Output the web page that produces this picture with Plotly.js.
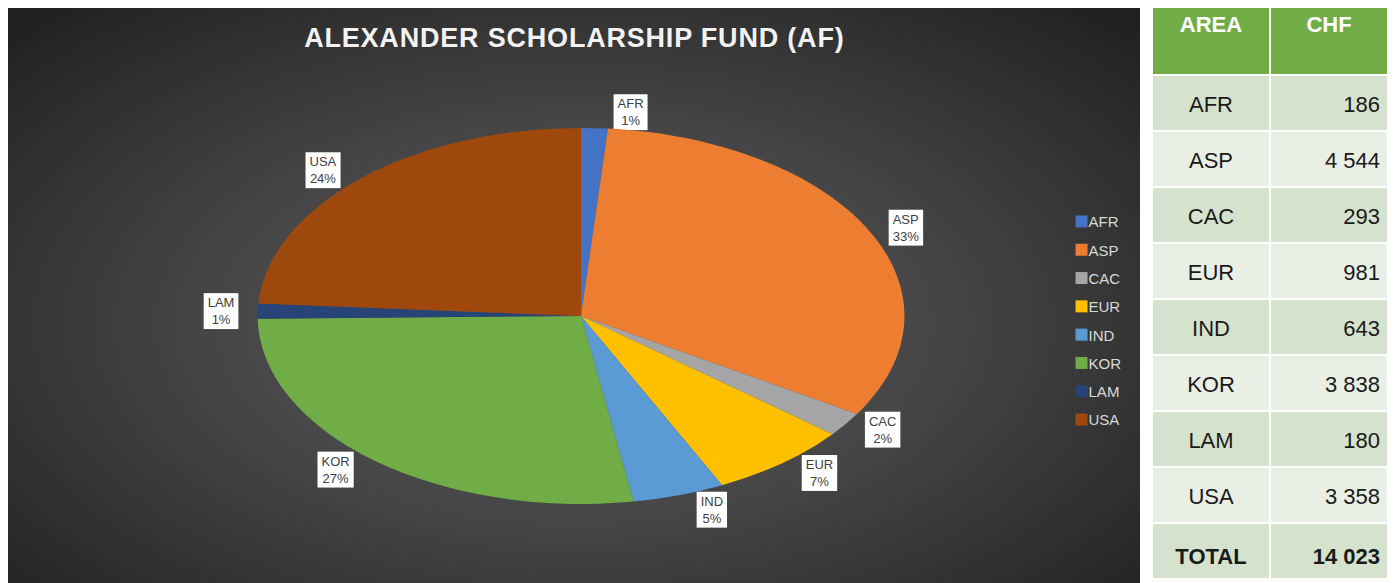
<!DOCTYPE html>
<html>
<head>
<meta charset="utf-8">
<script src="https://cdn.plot.ly/plotly-3.0.1.min.js"></script>
<style>
  html, body { margin: 0; padding: 0; background: #ffffff; }
  #wrap { position: relative; width: 1394px; height: 583px; overflow: hidden; }
  #bg { position: absolute; left: 8px; top: 8px; width: 1132px; height: 575px;
        background: radial-gradient(ellipse 70% 75% at 50% 55%, #5a5a5a 0%, #464646 45%, #2e2e2e 80%, #202020 100%); }
  #chart { position: absolute; left: 0; top: 0; width: 1394px; height: 583px; }
  .gtitle { letter-spacing: 0.8px; }
</style>
</head>
<body>
<div id="wrap">
  <div id="bg"></div>
  <div id="chart"></div>
</div>
<script>
// ---- data ----
const areas = ['AFR', 'ASP', 'CAC', 'EUR', 'IND', 'KOR', 'LAM', 'USA'];
const chf = [186, 4544, 293, 981, 643, 3838, 180, 3358];
const pctLabels = ['1%', '33%', '2%', '7%', '5%', '27%', '1%', '24%'];
const sliceColors = ['#4472C4', '#ED7D31', '#A5A5A5', '#FFC000', '#5B9BD5', '#70AD47', '#264478', '#9E480E'];
const headerLabels = ['AREA', 'CHF'];
const totalLabel = 'TOTAL';

function fmt(n) {
  return String(n).replace(/\B(?=(\d{3})+(?!\d))/g, '\u00A0');
}
const total = chf.reduce((a, b) => a + b, 0);

const colArea = areas.concat(['<b>' + totalLabel + '</b>']);
const colChf = chf.map(fmt).concat(['<b>' + fmt(total) + '</b>']);
const rowFill = colArea.map((_, i) => (i % 2 === 0 ? '#D5E2CD' : '#E9EFE5'));

// horizontal stretch of the pie to mimic the tilted 3-D view
const PIE_SX = 1.72, PIE_SY = 1.0;

const pie = {
  type: 'pie',
  labels: areas,
  values: chf,
  text: pctLabels,
  texttemplate: '%{label}<br>%{text}',
  textposition: 'outside',
  sort: false,
  direction: 'clockwise',
  rotation: 0,
  marker: { colors: sliceColors, line: { width: 0 } },
  outsidetextfont: { family: 'Liberation Sans Narrow, Liberation Sans, Arial, sans-serif', size: 13, color: '#404040' },
  hoverinfo: 'label+value+percent',
  domain: { x: [0.2733, 0.5603], y: [0.1355, 0.7805] },
  showlegend: true
};

const table = {
  type: 'table',
  domain: { x: [0.8264, 0.9957], y: [0, 0.988] },
  columnwidth: [1, 1],
  header: {
    values: headerLabels.map(h => '<b>' + h + '</b>'),
    align: ['center', 'center'],
    height: 68,
    fill: { color: '#70AD47' },
    line: { color: '#ffffff', width: 2 },
    font: { family: 'Liberation Sans, Arial, sans-serif', size: 22, color: '#ffffff' }
  },
  cells: {
    values: [colArea, colChf],
    align: ['center', 'right'],
    height: 56,
    fill: { color: [rowFill, rowFill] },
    line: { color: '#ffffff', width: 2 },
    font: { family: 'Liberation Sans, Arial, sans-serif', size: 22, color: '#1a1a1a' }
  }
};

const layout = {
  width: 1394,
  height: 583,
  margin: { l: 0, r: 0, t: 0, b: 0 },
  paper_bgcolor: 'rgba(0,0,0,0)',
  plot_bgcolor: 'rgba(0,0,0,0)',
  title: {
    text: 'ALEXANDER SCHOLARSHIP FUND (AF)',
    x: 0.412, xanchor: 'center',
    y: 0.935, yanchor: 'middle',
    font: { family: 'Liberation Sans, Arial, sans-serif', size: 27, color: '#F2F2F2', weight: 'bold' }
  },
  legend: {
    x: 0.7615, xanchor: 'left',
    y: 0.648, yanchor: 'top',
    bgcolor: 'rgba(0,0,0,0)',
    font: { family: 'Liberation Sans Narrow, Liberation Sans, Arial, sans-serif', size: 15, color: '#D9D9D9' },
    itemwidth: 30
  },
  showlegend: true
};

function toLocal(el, sx, sy) {
  const svg = el.ownerSVGElement;
  const p = svg.createSVGPoint();
  p.x = sx; p.y = sy;
  return p.matrixTransform(el.getScreenCTM().inverse());
}

Plotly.newPlot('chart', [pie, table], layout, { displayModeBar: false, staticPlot: true }).then(() => {
  const ns = 'http://www.w3.org/2000/svg';

  // --- pie: label boxes, then stretch into an ellipse while keeping labels undistorted ---
  const traceG = document.querySelector('.pielayer .trace');
  if (traceG) {
    let x0 = Infinity, y0 = Infinity, x1 = -Infinity, y1 = -Infinity;
    traceG.querySelectorAll('path.surface').forEach(p => {
      const r = p.getBoundingClientRect();
      x0 = Math.min(x0, r.left); y0 = Math.min(y0, r.top);
      x1 = Math.max(x1, r.right); y1 = Math.max(y1, r.bottom);
    });
    const parent = traceG.parentNode;
    const c = toLocal(parent, (x0 + x1) / 2, (y0 + y1) / 2);

    const texts = new Set();
    traceG.querySelectorAll('.slicetext').forEach(node => {
      const txt = node.tagName.toLowerCase() === 'text' ? node : node.querySelector('text');
      if (txt) texts.add(txt);
    });
    texts.forEach(txt => {
      const bb = txt.getBBox();
      const r = document.createElementNS(ns, 'rect');
      r.setAttribute('x', bb.x - 4);
      r.setAttribute('y', bb.y - 2);
      r.setAttribute('width', bb.width + 8);
      r.setAttribute('height', bb.height + 4);
      r.setAttribute('fill', '#ffffff');
      const tr = txt.getAttribute('transform');
      if (tr) r.setAttribute('transform', tr);
      const cr = txt.getBoundingClientRect();
      const host = txt.parentNode;
      const pc = toLocal(host, (cr.left + cr.right) / 2, (cr.top + cr.bottom) / 2);
      const g = document.createElementNS(ns, 'g');
      g.setAttribute('transform', 'translate(' + pc.x + ',' + pc.y + ') scale(' + (1 / PIE_SX) + ',' + (1 / PIE_SY) + ') translate(' + (-pc.x) + ',' + (-pc.y) + ')');
      host.insertBefore(g, txt);
      g.appendChild(r);
      g.appendChild(txt);
    });
    traceG.querySelectorAll('path.textline').forEach(p => {
      p.style.stroke = '#ffffff';
      p.style.strokeWidth = '1.5px';
      p.setAttribute('vector-effect', 'non-scaling-stroke');
    });
    const wrapG = document.createElementNS(ns, 'g');
    wrapG.setAttribute('transform', 'translate(' + c.x + ',' + c.y + ') scale(' + PIE_SX + ',' + PIE_SY + ') translate(' + (-c.x) + ',' + (-c.y) + ')');
    parent.insertBefore(wrapG, traceG);
    wrapG.appendChild(traceG);
  }

  // --- legend: wider row spacing, text closer to the swatch ---
  const sb = document.querySelector('.legend .scrollbox');
  if (sb) sb.removeAttribute('clip-path');
  const items = Array.from(document.querySelectorAll('.legend .traces'));
  if (items.length) {
    const parse = t => { const m = /translate\(\s*([-\d.]+)[ ,]+([-\d.]+)/.exec(t || ''); return m ? [parseFloat(m[1]), parseFloat(m[2])] : [0, 0]; };
    const base = parse(items[0].getAttribute('transform'));
    items.forEach((it, i) => {
      const xy = parse(it.getAttribute('transform'));
      it.setAttribute('transform', 'translate(' + xy[0] + ',' + (base[1] + i * 28.3) + ')');
      const lt = it.querySelector('.legendtext');
      if (lt) lt.setAttribute('x', 27);
    });
  }

  // --- table: centre body text vertically in its cell, lift header text a little ---
  document.querySelectorAll('.column-block').forEach(block => {
    const dy = block.id === 'header' ? -3 : 13;
    block.querySelectorAll('.cell-text').forEach(t => {
      const g = document.createElementNS(ns, 'g');
      g.setAttribute('transform', 'translate(0,' + dy + ')');
      t.parentNode.insertBefore(g, t);
      g.appendChild(t);
    });
  });
});
</script>
</body>
</html>
